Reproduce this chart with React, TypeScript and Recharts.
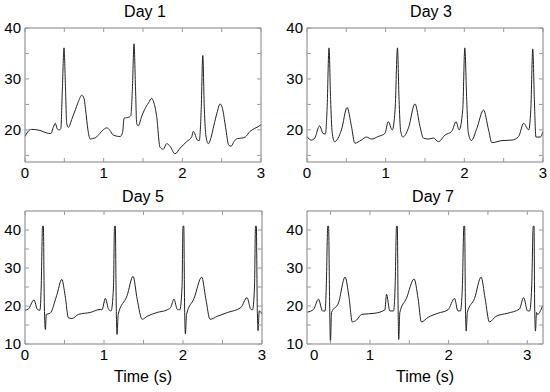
import React from "react";
import { LineChart, Line, XAxis, YAxis } from "recharts";

// --- data (time in s, signal value) ---
const day1Time = [0, 0.034, 0.085, 0.19, 0.275, 0.33, 0.36, 0.385, 0.41, 0.436, 0.455, 0.475, 0.496, 0.515, 0.53, 0.55, 0.6, 0.63, 0.68, 0.72, 0.75, 0.77, 0.8, 0.83, 0.86, 0.9, 0.95, 1.0, 1.04, 1.08, 1.12, 1.21, 1.24, 1.26, 1.29, 1.32, 1.345, 1.365, 1.386, 1.405, 1.42, 1.44, 1.48, 1.52, 1.57, 1.61, 1.635, 1.674, 1.716, 1.758, 1.8, 1.843, 1.907, 1.97, 2.055, 2.12, 2.14, 2.16, 2.19, 2.215, 2.24, 2.26, 2.28, 2.3, 2.33, 2.37, 2.4, 2.44, 2.48, 2.51, 2.55, 2.59, 2.62, 2.66, 2.7, 2.76, 2.8, 2.86, 2.92, 2.96, 3.0];
const day1Value = [18.7, 19.6, 20.1, 19.9, 19.4, 19.3, 20.5, 21.3, 20.2, 20.0, 20.2, 28, 36.1, 28, 21.3, 20.5, 22.3, 23.5, 25.6, 26.8, 26.2, 24, 20, 18.2, 18.3, 18.5, 19.3, 20.1, 20.4, 19.9, 19.0, 18.7, 19.5, 22.3, 22.4, 22.5, 22.8, 28, 36.9, 28, 21.2, 20.8, 22.5, 24, 25.3, 26.2, 25.5, 22.6, 16.6, 16.2, 17.3, 16.8, 15.3, 16.4, 17.7, 18.7, 19.7, 19.2, 18.0, 17.9, 24, 34.6, 24, 18.8, 17.3, 18.8, 20.8, 23.3, 25.1, 24.2, 20.5, 17.0, 16.8, 17.8, 18.3, 18.4, 18.6, 19.7, 20.3, 20.6, 21.0];

const day3Time = [0, 0.055, 0.098, 0.16, 0.204, 0.234, 0.255, 0.28, 0.3, 0.32, 0.35, 0.438, 0.51, 0.565, 0.608, 0.69, 0.756, 0.82, 0.905, 0.99, 1.033, 1.084, 1.12, 1.15, 1.17, 1.19, 1.22, 1.288, 1.373, 1.436, 1.479, 1.543, 1.606, 1.67, 1.755, 1.84, 1.895, 1.934, 1.98, 2.006, 2.03, 2.05, 2.09, 2.159, 2.244, 2.308, 2.35, 2.478, 2.605, 2.69, 2.754, 2.818, 2.845, 2.87, 2.89, 2.91, 2.966, 3.0];
const day3Value = [18.7, 18.0, 18.4, 20.8, 19.3, 19.2, 24, 36.1, 26, 19.5, 17.7, 20, 24.4, 20.7, 17.4, 18, 18.6, 18.2, 18.7, 19.3, 21.6, 20, 24, 36.1, 26, 19.8, 18.6, 20.3, 25.1, 20.7, 18.4, 18.2, 18.4, 17.7, 19, 19.7, 21.6, 20, 24, 36.1, 26, 19.5, 17.9, 20.3, 23.9, 20, 17.5, 17.9, 18, 18.7, 21.3, 20, 24, 35.9, 26, 18.6, 18.6, 19.7];

const day5Time = [0, 0.042, 0.114, 0.157, 0.19, 0.205, 0.222, 0.232, 0.245, 0.258, 0.27, 0.318, 0.4, 0.466, 0.508, 0.55, 0.593, 0.678, 0.826, 0.953, 0.975, 1.017, 1.059, 1.09, 1.12, 1.133, 1.143, 1.155, 1.165, 1.18, 1.292, 1.368, 1.42, 1.483, 1.547, 1.674, 1.8, 1.843, 1.886, 1.928, 1.96, 1.988, 2.0, 2.01, 2.02, 2.03, 2.045, 2.14, 2.237, 2.288, 2.343, 2.436, 2.564, 2.733, 2.81, 2.86, 2.88, 2.905, 2.918, 2.928, 2.94, 2.95, 2.965, 3.0];
const day5Value = [18.9, 19.2, 21.6, 19.1, 18.9, 25, 41, 41, 20, 13.8, 17.8, 18.1, 22.7, 27.0, 22.7, 16.9, 16.7, 17.8, 18.3, 19.1, 19.0, 22.0, 19.1, 18.7, 25, 41, 41, 20, 12.5, 17.8, 22.7, 27.8, 21.8, 16.5, 17.3, 18.3, 19, 19.6, 21.8, 19.1, 19, 25, 41, 41, 20, 12.7, 17.8, 22.0, 27.6, 22, 16.5, 17.3, 18.3, 19.6, 22.2, 19.1, 19, 25, 41, 41, 20, 13.5, 18.7, 17.9];

const day7Time = [0.207, 0.283, 0.346, 0.397, 0.43, 0.445, 0.464, 0.474, 0.488, 0.498, 0.512, 0.6, 0.684, 0.734, 0.776, 0.83, 0.895, 1.063, 1.19, 1.211, 1.253, 1.3, 1.32, 1.338, 1.348, 1.358, 1.366, 1.38, 1.464, 1.561, 1.612, 1.654, 1.738, 1.865, 1.992, 2.076, 2.118, 2.15, 2.175, 2.194, 2.204, 2.214, 2.224, 2.238, 2.33, 2.413, 2.464, 2.519, 2.603, 2.75, 2.9, 2.954, 3.004, 3.03, 3.056, 3.076, 3.086, 3.094, 3.104, 3.118, 3.13, 3.194];
const day7Value = [18.4, 19.1, 21.8, 18.7, 18.7, 25, 41, 41, 20, 10.5, 18.3, 20.8, 27.6, 22.3, 15.8, 16.3, 17.8, 18.1, 19, 23.1, 18.7, 18.7, 25, 41, 41, 20, 11.2, 18.3, 22, 27.1, 22, 15.8, 17, 18.1, 19, 22, 18.7, 18.7, 25, 41, 41, 20, 13.4, 18.3, 22, 27.6, 22, 15.8, 17.3, 18.1, 19.2, 22.2, 18.7, 18.7, 25, 41, 41, 20, 13.4, 18.3, 17.8, 20];

// ticks and their labels
const xTicks = [0, 0.5, 1, 1.5, 2, 2.5, 3];
const xTickLabels = ["0", "", "1", "", "2", "", "3"];
const xTicksDay7 = [0.29, 0.5, 1, 1.5, 2, 2.5, 3];
const xTickLabelsDay7 = ["0", "", "1", "", "2", "", "3"];
const yTicksTop = [15, 20, 25, 30, 35, 40];
const yTickLabelsTop = ["", "20", "", "30", "", "40"];
const yTicksBottom = [10, 15, 20, 25, 30, 35, 40];
const yTickLabelsBottom = ["10", "", "20", "", "30", "", "40"];

const FONT = "'Liberation Sans', Arial, Helvetica, sans-serif";
const FRAME = "#808080";
const TICK = "#9a9a9a";

const bottomTick = (labels: string[], noMark: number[]) => (p: any) => (
  <g>
    {!noMark.includes(p.payload.value) && (
      <line x1={p.x} y1={p.y} x2={p.x} y2={p.y - 4} stroke={TICK} />
    )}
    <text x={p.x} y={p.y + 16} textAnchor="middle" fontSize={15} fontFamily={FONT} fill="#000">
      {labels[p.index]}
    </text>
  </g>
);

const topTick = (noMark: number[]) => (p: any) =>
  noMark.includes(p.payload.value) ? <g /> : (
    <line x1={p.x} y1={p.y} x2={p.x} y2={p.y + 4} stroke={TICK} />
  );

const leftTick = (labels: string[]) => (p: any) => (
  <g>
    <line x1={p.x} y1={p.y} x2={p.x + 4} y2={p.y} stroke={TICK} />
    <text x={p.x - 4} y={p.y + 5} textAnchor="end" fontSize={15} fontFamily={FONT} fill="#000">
      {labels[p.index]}
    </text>
  </g>
);

const rightTick = (p: any) => (
  <line x1={p.x} y1={p.y} x2={p.x - 4} y2={p.y} stroke={TICK} />
);

type PanelProps = {
  time: number[];
  value: number[];
  box: { left: number; right: number; top: number; bottom: number };
  xDomain: [number, number];
  yDomain: [number, number];
  xt: number[];
  xl: string[];
  yt: number[];
  yl: string[];
  noMark?: number[];
};

// axes are 1px thick so recharts still draws them; margins are trimmed by 1
function Panel({ time, value, box, xDomain, yDomain, xt, xl, yt, yl, noMark = [] }: PanelProps) {
  const data = time.map((t, i) => ({ t, v: value[i] }));
  const xCommon = {
    dataKey: "t",
    type: "number" as const,
    domain: xDomain,
    ticks: xt,
    interval: 0 as const,
    height: 1,
    tickSize: 0,
    tickMargin: 0,
    tickLine: false,
    allowDataOverflow: true,
    axisLine: { stroke: FRAME },
  };
  const yCommon = {
    type: "number" as const,
    domain: yDomain,
    ticks: yt,
    interval: 0 as const,
    width: 1,
    tickSize: 0,
    tickMargin: 0,
    tickLine: false,
    allowDataOverflow: true,
    axisLine: { stroke: FRAME },
  };
  return (
    <div style={{ position: "absolute", left: 0, top: 0 }}>
      <LineChart
        width={550}
        height={392}
        data={data}
        margin={{
          left: box.left - 1,
          top: box.top - 1,
          right: 550 - box.right - 1,
          bottom: 392 - box.bottom - 1,
        }}
      >
        <XAxis xAxisId="b" orientation="bottom" {...xCommon} tick={bottomTick(xl, noMark)} />
        <XAxis xAxisId="t" orientation="top" {...xCommon} tick={topTick(noMark)} />
        <YAxis yAxisId="l" orientation="left" {...yCommon} tick={leftTick(yl)} />
        <YAxis yAxisId="r" orientation="right" {...yCommon} tick={rightTick} />
        <Line
          xAxisId="b"
          yAxisId="l"
          dataKey="v"
          type="monotone"
          stroke="#222"
          strokeWidth={1}
          dot={false}
          isAnimationActive={false}
        />
      </LineChart>
    </div>
  );
}

const titleStyle = { fontSize: 16, fontFamily: FONT, fill: "#000" };

export default function App() {
  return (
    <div style={{ position: "absolute", left: 0, top: 0, width: 550, height: 392, background: "#fff" }}>
      <Panel time={day1Time} value={day1Value} box={{ left: 25, right: 261, top: 28, bottom: 162 }}
        xDomain={[0, 3]} yDomain={[13.7, 40]} xt={xTicks} xl={xTickLabels} yt={yTicksTop} yl={yTickLabelsTop} />
      <Panel time={day3Time} value={day3Value} box={{ left: 307, right: 543, top: 28, bottom: 162 }}
        xDomain={[0, 3]} yDomain={[13.7, 40]} xt={xTicks} xl={xTickLabels} yt={yTicksTop} yl={yTickLabelsTop} />
      <Panel time={day5Time} value={day5Value} box={{ left: 25, right: 262, top: 211, bottom: 344 }}
        xDomain={[0, 3]} yDomain={[10, 45]} xt={xTicks} xl={xTickLabels} yt={yTicksBottom} yl={yTickLabelsBottom} />
      <Panel time={day7Time} value={day7Value} box={{ left: 307, right: 543, top: 211, bottom: 344 }}
        xDomain={[0.2, 3.2]} yDomain={[10, 45]} xt={xTicksDay7} xl={xTickLabelsDay7} yt={yTicksBottom} yl={yTickLabelsBottom}
        noMark={[0.29]} />
      <svg width={550} height={392} style={{ position: "absolute", left: 0, top: 0, pointerEvents: "none" }}>
        <text x={145} y={17} textAnchor="middle" style={titleStyle}>Day 1</text>
        <text x={431} y={17} textAnchor="middle" style={titleStyle}>Day 3</text>
        <text x={143} y={202} textAnchor="middle" style={titleStyle}>Day 5</text>
        <text x={433} y={202} textAnchor="middle" style={titleStyle}>Day 7</text>
        <text x={143} y={382} textAnchor="middle" style={titleStyle}>Time (s)</text>
        <text x={425} y={382} textAnchor="middle" style={titleStyle}>Time (s)</text>
      </svg>
    </div>
  );
}
